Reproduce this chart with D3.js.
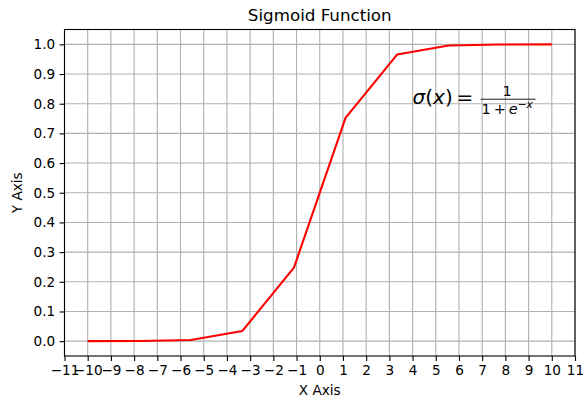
<!DOCTYPE html>
<html>
<head>
<meta charset="utf-8">
<script src="https://cdn.jsdelivr.net/npm/d3@7"></script>
<style>
  html, body { margin: 0; padding: 0; background: #fff; }
  svg { display: block; font-family: "DejaVu Sans", sans-serif; }
</style>
</head>
<body>
<svg id="chart" width="584" height="401"></svg>
<script>
// Sampled sigmoid curve (10 evenly spaced points on [-10, 10])
const xValues = [-10, -7.778, -5.556, -3.333, -1.111, 1.111, 3.333, 5.556, 7.778, 10];
const yValues = [0.0000, 0.0004, 0.0038, 0.0344, 0.2479, 0.7521, 0.9656, 0.9962, 0.9996, 1.0000];
const xTicks = d3.range(-11, 12, 1);
const yTicks = [0.0, 0.1, 0.2, 0.3, 0.4, 0.5, 0.6, 0.7, 0.8, 0.9, 1.0];
const xDomain = [-11, 11];
const yDomain = [-0.05, 1.05];

const svg = d3.select("#chart");
const margin = { left: 64.5, right: 9, top: 29.5, bottom: 45 };
const W = 584, H = 401;
const x = d3.scaleLinear().domain(xDomain).range([margin.left, W - margin.right]);
const y = d3.scaleLinear().domain(yDomain).range([H - margin.bottom, margin.top]);

const tickFont = 13.6;
const minus = s => s.replace("-", "\u2212");

// grid
const grid = svg.append("g");
grid.selectAll(".gx").data(xTicks).join("line")
  .attr("x1", d => x(d)).attr("x2", d => x(d))
  .attr("y1", y.range()[1]).attr("y2", y.range()[0])
  .attr("stroke", "#b0b0b0").attr("stroke-width", 1.1);
grid.selectAll(".gy").data(yTicks).join("line")
  .attr("y1", d => y(d)).attr("y2", d => y(d))
  .attr("x1", x.range()[0]).attr("x2", x.range()[1])
  .attr("stroke", "#b0b0b0").attr("stroke-width", 1.1);

// sigmoid line
const pts = xValues.map((v, i) => [v, yValues[i]]);
svg.append("path")
  .attr("d", d3.line().x(d => x(d[0])).y(d => y(d[1]))(pts))
  .attr("fill", "none").attr("stroke", "red").attr("stroke-width", 2.1)
  .attr("stroke-linejoin", "round");

// axes
const xAxis = d3.axisBottom(x).tickValues(xTicks).tickSizeInner(4.9).tickSizeOuter(0).tickPadding(4.5)
  .tickFormat(d => minus(d3.format("d")(d)));
const yAxis = d3.axisLeft(y).tickValues(yTicks).tickSizeInner(4.9).tickSizeOuter(0).tickPadding(4.5)
  .tickFormat(d3.format(".1f"));

const gx = svg.append("g").attr("transform", `translate(0,${y.range()[0]})`).call(xAxis);
const gy = svg.append("g").attr("transform", `translate(${x.range()[0]},0)`).call(yAxis);
[gx, gy].forEach(g => {
  g.select(".domain").remove();
  g.selectAll(".tick line").attr("stroke", "#000").attr("stroke-width", 1.1);
  g.selectAll(".tick text").attr("fill", "#000")
    .style("font-family", "'DejaVu Sans', sans-serif").style("font-size", tickFont + "px");
});

// frame
svg.append("rect")
  .attr("x", x.range()[0]).attr("y", y.range()[1])
  .attr("width", x.range()[1] - x.range()[0]).attr("height", y.range()[0] - y.range()[1])
  .attr("fill", "none").attr("stroke", "#000").attr("stroke-width", 1.1);

// titles
const cx = (x.range()[0] + x.range()[1]) / 2;
svg.append("text").attr("x", cx).attr("y", 21).attr("text-anchor", "middle")
  .style("font-size", "16.7px").text("Sigmoid Function");
svg.append("text").attr("x", cx).attr("y", 395).attr("text-anchor", "middle")
  .style("font-size", tickFont + "px").text("X Axis");
svg.append("text").attr("transform", `translate(22,${(y.range()[0] + y.range()[1]) / 2}) rotate(-90)`)
  .attr("text-anchor", "middle").style("font-size", tickFont + "px").text("Y Axis");

// formula annotation at data point (4, 0.8)
const fx = x(4), fy = y(0.8);
const eq = svg.append("text").attr("x", fx).attr("y", fy).style("font-size", "20px");
eq.append("tspan").style("font-style", "italic").text("σ");
eq.append("tspan").text("(");
eq.append("tspan").style("font-style", "italic").text("x");
eq.append("tspan").text(")");
svg.append("text").attr("x", fx + 44).attr("y", fy).style("font-size", "20px").text("=");
const barX0 = fx + 68, barX1 = fx + 123, barY = fy - 4.5;
svg.append("line").attr("x1", barX0).attr("x2", barX1).attr("y1", barY).attr("y2", barY)
  .attr("stroke", "#000").attr("stroke-width", 0.9);
svg.append("text").attr("x", (barX0 + barX1) / 2 - 1).attr("y", barY - 3.5)
  .attr("text-anchor", "middle").style("font-size", "14.5px").text("1");
const den = svg.append("text").attr("x", barX0 + 1).attr("y", barY + 14.5).style("font-size", "14.5px");
den.append("tspan").text("1\u2009+\u2009");
den.append("tspan").style("font-style", "italic").text("e");
den.append("tspan").attr("dy", -5.5).style("font-size", "10.5px").text("\u2212");
den.append("tspan").style("font-size", "10.5px").style("font-style", "italic").text("x");
</script>
</body>
</html>
